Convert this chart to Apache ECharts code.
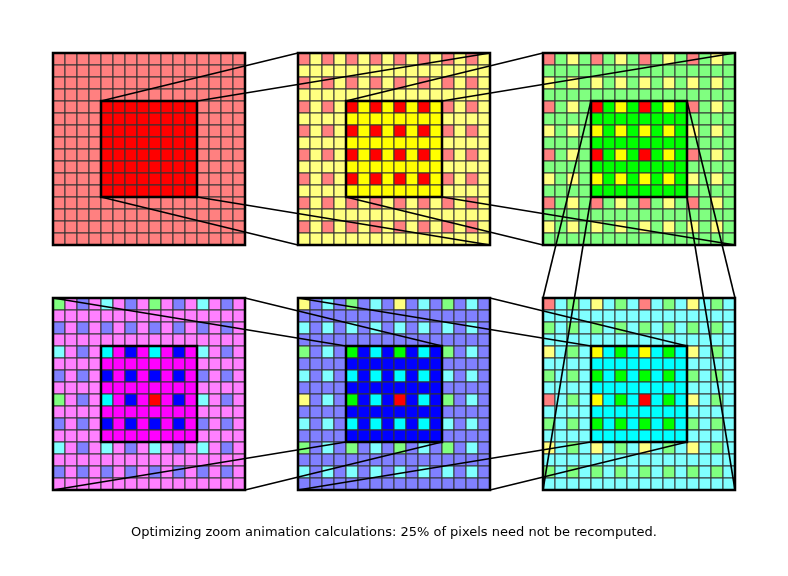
<!DOCTYPE html>
<html><head><meta charset="utf-8">
<script src="https://cdn.jsdelivr.net/npm/echarts@6/dist/echarts.min.js"></script>
<style>html,body{margin:0;padding:0;background:#fff}#c{width:788px;height:576px}</style>
</head><body><div id="c"></div>
<script>
const titleText = "Optimizing zoom animation calculations: 25% of pixels need not be recomputed.";
const panel1 = ["RRRRRRRRRRRRRRRR","RRRRRRRRRRRRRRRR","RRRRRRRRRRRRRRRR","RRRRRRRRRRRRRRRR","RRRRRRRRRRRRRRRR","RRRRRRRRRRRRRRRR","RRRRRRRRRRRRRRRR","RRRRRRRRRRRRRRRR","RRRRRRRRRRRRRRRR","RRRRRRRRRRRRRRRR","RRRRRRRRRRRRRRRR","RRRRRRRRRRRRRRRR","RRRRRRRRRRRRRRRR","RRRRRRRRRRRRRRRR","RRRRRRRRRRRRRRRR","RRRRRRRRRRRRRRRR"];
const panel2 = ["RYRYRYRYRYRYRYRY","YYYYYYYYYYYYYYYY","RYRYRYRYRYRYRYRY","YYYYYYYYYYYYYYYY","RYRYRYRYRYRYRYRY","YYYYYYYYYYYYYYYY","RYRYRYRYRYRYRYRY","YYYYYYYYYYYYYYYY","RYRYRYRYRYRYRYRY","YYYYYYYYYYYYYYYY","RYRYRYRYRYRYRYRY","YYYYYYYYYYYYYYYY","RYRYRYRYRYRYRYRY","YYYYYYYYYYYYYYYY","RYRYRYRYRYRYRYRY","YYYYYYYYYYYYYYYY"];
const panel3 = ["RGYGRGYGRGYGRGYG","GGGGGGGGGGGGGGGG","YGYGYGYGYGYGYGYG","GGGGGGGGGGGGGGGG","RGYGRGYGRGYGRGYG","GGGGGGGGGGGGGGGG","YGYGYGYGYGYGYGYG","GGGGGGGGGGGGGGGG","RGYGRGYGRGYGRGYG","GGGGGGGGGGGGGGGG","YGYGYGYGYGYGYGYG","GGGGGGGGGGGGGGGG","RGYGRGYGRGYGRGYG","GGGGGGGGGGGGGGGG","YGYGYGYGYGYGYGYG","GGGGGGGGGGGGGGGG"];
const panel4 = ["GMBMCMBMGMBMCMBM","MMMMMMMMMMMMMMMM","BMBMBMBMBMBMBMBM","MMMMMMMMMMMMMMMM","CMBMCMBMCMBMCMBM","MMMMMMMMMMMMMMMM","BMBMBMBMBMBMBMBM","MMMMMMMMMMMMMMMM","GMBMCMBMRMBMCMBM","MMMMMMMMMMMMMMMM","BMBMBMBMBMBMBMBM","MMMMMMMMMMMMMMMM","CMBMCMBMCMBMCMBM","MMMMMMMMMMMMMMMM","BMBMBMBMBMBMBMBM","MMMMMMMMMMMMMMMM"];
const panel5 = ["YBCBGBCBYBCBGBCB","BBBBBBBBBBBBBBBB","CBCBCBCBCBCBCBCB","BBBBBBBBBBBBBBBB","GBCBGBCBGBCBGBCB","BBBBBBBBBBBBBBBB","CBCBCBCBCBCBCBCB","BBBBBBBBBBBBBBBB","YBCBGBCBRBCBGBCB","BBBBBBBBBBBBBBBB","CBCBCBCBCBCBCBCB","BBBBBBBBBBBBBBBB","GBCBGBCBGBCBGBCB","BBBBBBBBBBBBBBBB","CBCBCBCBCBCBCBCB","BBBBBBBBBBBBBBBB"];
const panel6 = ["RCGCYCGCRCGCYCGC","CCCCCCCCCCCCCCCC","GCGCGCGCGCGCGCGC","CCCCCCCCCCCCCCCC","YCGCYCGCYCGCYCGC","CCCCCCCCCCCCCCCC","GCGCGCGCGCGCGCGC","CCCCCCCCCCCCCCCC","RCGCYCGCRCGCYCGC","CCCCCCCCCCCCCCCC","GCGCGCGCGCGCGCGC","CCCCCCCCCCCCCCCC","YCGCYCGCYCGCYCGC","CCCCCCCCCCCCCCCC","GCGCGCGCGCGCGCGC","CCCCCCCCCCCCCCCC"];
const panels = [panel1, panel2, panel3, panel4, panel5, panel6];
const links = [[0,1],[1,2],[2,5],[5,4],[4,3]];

// layout / style
const PX=[53,298,543,53,298,543], PY=[53,53,53,298,298,298], CELL=12, N=16, IN0=4, IN1=12;
const light={R:'#ff8080',Y:'#ffff80',G:'#80ff80',C:'#80ffff',B:'#8080ff',M:'#ff80ff'};
const sat={R:'#ff0000',Y:'#ffff00',G:'#00ff00',C:'#00ffff',B:'#0000ff',M:'#ff00ff'};

const cells=[];
panels.forEach((rows,p)=>rows.forEach((s,r)=>s.split('').forEach((ch,c)=>cells.push([p,r,c,ch]))));

const chart=echarts.init(document.getElementById('c'));
function corners(p, inner){
  const o = inner ? IN0*CELL : 0, s = inner ? (IN1-IN0)*CELL : N*CELL;
  const x=PX[p]+o, y=PY[p]+o;
  return [[x,y],[x+s,y],[x,y+s],[x+s,y+s]];
}
chart.setOption({
  animation:false,
  title:{text:titleText,left:'center',top:521,textStyle:{fontFamily:'DejaVu Sans',fontSize:13,fontWeight:'normal',color:'#000'}},
  grid:{left:0,top:0,width:788,height:576},
  xAxis:{type:'value',min:0,max:788,show:false},
  yAxis:{type:'value',min:0,max:576,inverse:true,show:false},
  series:[
    {type:'custom',data:cells,renderItem:(params,api)=>{
      const d=cells[params.dataIndex];
      const [p,r,c,ch]=d;
      const a=api.coord([PX[p]+c*CELL,PY[p]+r*CELL]), b=api.coord([PX[p]+(c+1)*CELL,PY[p]+(r+1)*CELL]);
      const inside=r>=IN0&&r<IN1&&c>=IN0&&c<IN1;
      return {type:'rect',shape:{x:a[0],y:a[1],width:b[0]-a[0],height:b[1]-a[1]},
        style:{fill:(inside?sat:light)[ch],stroke:'#333',lineWidth:1}};
    }},
    {type:'custom',data:[0,1,2,3,4,5],renderItem:(params,api)=>{
      const p=params.dataIndex; const ch=[];
      [false,true].forEach(inner=>{
        const k=corners(p,inner).map(q=>api.coord(q));
        ch.push({type:'rect',shape:{x:k[0][0],y:k[0][1],width:k[1][0]-k[0][0],height:k[2][1]-k[0][1]},style:{fill:null,stroke:'#000',lineWidth:2.5}});
      });
      return {type:'group',children:ch};
    }},
    {type:'custom',data:links,renderItem:(params,api)=>{
      const [s,t]=links[params.dataIndex];
      const a=corners(s,true), b=corners(t,false);
      return {type:'group',children:a.map((q,i)=>{
        const p1=api.coord(q), p2=api.coord(b[i]);
        return {type:'line',shape:{x1:p1[0],y1:p1[1],x2:p2[0],y2:p2[1]},style:{stroke:'#000',lineWidth:1.6}};
      })};
    }}
  ]
});
</script></body></html>
